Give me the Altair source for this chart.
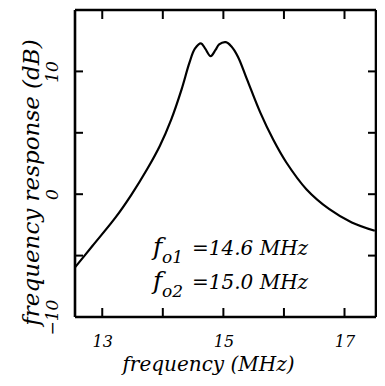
import altair as alt
import pandas as pd

# curve
freq = [12.55, 12.84, 13.22, 13.48, 13.74, 13.95, 14.14, 14.31, 14.44, 14.53,
        14.63, 14.70, 14.79, 14.87, 14.93, 15.04, 15.13, 15.24, 15.39,
        15.61, 15.82, 16.04, 16.37, 16.75, 17.12, 17.50]
resp = [-5.96, -4.20, -1.89, -0.05, 2.03, 3.93, 6.10, 8.54, 10.71, 11.85,
        12.28, 11.85, 11.24, 11.75, 12.20, 12.38, 12.05, 11.2, 9.35,
        6.64, 4.47, 2.58, 0.41, -1.22, -2.30, -2.98]

x_ticks = [13, 14, 15, 16, 17]
x_labels = [13, 15, 17]
y_ticks = [-10, -5, 0, 5, 10, 15]
y_labels = [-10, 0, 10]

ann1_f, ann1_sub, ann1_rest = "f", "o1", "=14.6 MHz"
ann2_f, ann2_sub, ann2_rest = "f", "o2", "=15.0 MHz"

W, H = 301, 307
FONT = "DejaVu Serif"

df = pd.DataFrame({"f": freq, "r": resp})
xt = pd.DataFrame({"v": x_ticks})
yt = pd.DataFrame({"v": y_ticks})
one = pd.DataFrame({"k": [0]})

xs = alt.Scale(domain=[12.55, 17.52], nice=False, zero=False)
ys = alt.Scale(domain=[-10, 15], nice=False, zero=False)

line = alt.Chart(df).mark_line(color="black", strokeWidth=2.2, interpolate="catmull-rom").encode(
    x=alt.X("f:Q", scale=xs, axis=alt.Axis(
        values=x_labels, format="d", title="frequency (MHz)", ticks=False, tickSize=0, domain=False, grid=False,
        labelFont=FONT, labelFontStyle="italic", labelFontSize=16, labelColor="black",
        labelBaseline="alphabetic", labelPadding=29,
        titleFont=FONT, titleFontStyle="italic", titleFontSize=20, titleFontWeight="normal",
        titleColor="black", titleX=133, titleY=53, titleBaseline="alphabetic", titleAlign="center")),
    y=alt.Y("r:Q", scale=ys, axis=alt.Axis(
        values=y_labels, format="d", title="frequency response (dB)", ticks=False, tickSize=0, domain=False, grid=False,
        labelFont=FONT, labelFontStyle="italic", labelFontSize=17, labelColor="black",
        labelAngle=270, labelPadding=14,
        titleFont=FONT, titleFontStyle="italic", titleFontSize=23, titleFontWeight="normal",
        titleColor="black", titleX=-37, titleY=172, titleBaseline="alphabetic", titleAlign="center", titleAngle=270)),
)

tick_style = dict(color="black", strokeWidth=2)
bottom = alt.Chart(xt).mark_rule(**tick_style).encode(
    x=alt.X("v:Q", scale=xs), y=alt.value(H), y2=alt.value(H - 9))
top = alt.Chart(xt).mark_rule(**tick_style).encode(
    x=alt.X("v:Q", scale=xs), y=alt.value(0), y2=alt.value(9))
left = alt.Chart(yt).mark_rule(**tick_style).encode(
    y=alt.Y("v:Q", scale=ys), x=alt.value(0), x2=alt.value(8))
right = alt.Chart(yt).mark_rule(**tick_style).encode(
    y=alt.Y("v:Q", scale=ys), x=alt.value(W), x2=alt.value(W - 8))

frame_style = dict(color="black", strokeWidth=2.6)
frame = [
    alt.Chart(one).mark_rule(**frame_style).encode(x=alt.value(0), x2=alt.value(W), y=alt.value(0)),
    alt.Chart(one).mark_rule(**frame_style).encode(x=alt.value(0), x2=alt.value(W), y=alt.value(H)),
    alt.Chart(one).mark_rule(**frame_style).encode(y=alt.value(0), y2=alt.value(H), x=alt.value(0)),
    alt.Chart(one).mark_rule(**frame_style).encode(y=alt.value(0), y2=alt.value(H), x=alt.value(W)),
]


def txt(s, px, py, size):
    return alt.Chart(pd.DataFrame({"t": [s]})).mark_text(
        font=FONT, fontStyle="italic", fontSize=size, color="black", align="left", baseline="alphabetic"
    ).encode(text="t:N", x=alt.value(px), y=alt.value(py))


anns = [
    txt(ann1_f, 78, 245, 25), txt(ann1_sub, 87, 253, 17), txt(ann1_rest, 117, 245, 20),
    txt(ann2_f, 78, 279, 25), txt(ann2_sub, 87, 287, 17), txt(ann2_rest, 117, 279, 20),
]

chart = alt.layer(line, bottom, top, left, right, *frame, *anns).properties(
    width=W, height=H,
    autosize=alt.AutoSizeParams(type="none"),
    padding={"left": 67, "top": 2, "right": 1, "bottom": 61},
    background="white",
).configure_view(stroke=None)

chart.save("out.html", embed_options={"renderer": "svg", "actions": False})
